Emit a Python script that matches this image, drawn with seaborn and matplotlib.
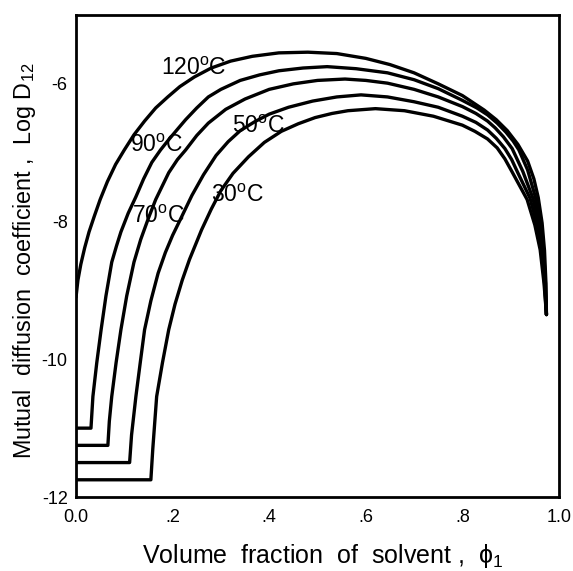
import matplotlib
matplotlib.use("Agg")
import matplotlib.pyplot as plt
import numpy as np
import pandas as pd
import seaborn as sns

# ---- data ----
temperatures = ["120", "90", "70", "50", "30"]

phi_120 = [0.000, 0.004, 0.010, 0.018, 0.027, 0.038, 0.050, 0.065, 0.082, 0.100, 0.120, 0.142,
           0.165, 0.190, 0.215, 0.245, 0.280, 0.320, 0.365, 0.420, 0.480, 0.540, 0.600, 0.650,
           0.700, 0.750, 0.800, 0.845, 0.870, 0.893, 0.915, 0.935, 0.948, 0.957, 0.965, 0.970,
           0.973, 0.974]
logd_120 = [-9.10, -8.85, -8.62, -8.38, -8.15, -7.92, -7.68, -7.42, -7.17, -6.96, -6.74, -6.54,
            -6.35, -6.19, -6.04, -5.90, -5.77, -5.67, -5.60, -5.55, -5.54, -5.56, -5.63, -5.72,
            -5.84, -6.00, -6.17, -6.38, -6.52, -6.68, -6.88, -7.12, -7.38, -7.65, -8.02, -8.42,
            -8.90, -9.35]

phi_90 = [0.000, 0.031, 0.035, 0.043, 0.052, 0.062, 0.074, 0.084, 0.093, 0.108, 0.124, 0.140,
          0.157, 0.175, 0.192, 0.210, 0.227, 0.250, 0.274, 0.300, 0.340, 0.380, 0.420, 0.470,
          0.520, 0.580, 0.645, 0.700, 0.750, 0.800, 0.830, 0.852, 0.872, 0.890, 0.905, 0.917,
          0.935, 0.951, 0.962, 0.968, 0.972, 0.974]
logd_90 = [-11.00, -11.00, -10.54, -10.05, -9.57, -9.08, -8.59, -8.35, -8.15, -7.88, -7.64, -7.38,
           -7.14, -6.96, -6.81, -6.66, -6.52, -6.35, -6.19, -6.08, -5.95, -5.87, -5.81, -5.77,
           -5.75, -5.78, -5.84, -5.94, -6.07, -6.24, -6.35, -6.45, -6.57, -6.70, -6.83, -6.96,
           -7.25, -7.64, -8.03, -8.41, -8.90, -9.35]

phi_70 = [0.000, 0.066, 0.069, 0.074, 0.083, 0.093, 0.105, 0.120, 0.134, 0.150, 0.165, 0.192,
          0.210, 0.227, 0.250, 0.274, 0.310, 0.350, 0.400, 0.450, 0.500, 0.557, 0.600, 0.645,
          0.700, 0.750, 0.800, 0.828, 0.852, 0.868, 0.885, 0.903, 0.925, 0.946, 0.958, 0.966,
          0.971, 0.974]
logd_70 = [-11.25, -11.25, -10.90, -10.54, -10.05, -9.57, -9.08, -8.59, -8.26, -7.95, -7.68, -7.29,
           -7.10, -6.96, -6.75, -6.57, -6.37, -6.22, -6.08, -6.00, -5.95, -5.93, -5.95, -5.99,
           -6.08, -6.19, -6.33, -6.43, -6.54, -6.64, -6.77, -6.94, -7.27, -7.66, -8.03, -8.41,
           -8.90, -9.35]

phi_50 = [0.000, 0.111, 0.115, 0.124, 0.133, 0.142, 0.155, 0.170, 0.185, 0.200, 0.216, 0.240,
          0.264, 0.290, 0.315, 0.340, 0.370, 0.400, 0.440, 0.490, 0.540, 0.590, 0.645, 0.700,
          0.750, 0.800, 0.828, 0.852, 0.870, 0.888, 0.902, 0.914, 0.940, 0.954, 0.964, 0.970,
          0.974]
logd_50 = [-11.50, -11.50, -11.10, -10.54, -10.05, -9.57, -9.15, -8.75, -8.45, -8.20, -7.97, -7.62,
           -7.32, -7.04, -6.84, -6.68, -6.55, -6.44, -6.34, -6.25, -6.19, -6.16, -6.19, -6.26,
           -6.34, -6.47, -6.56, -6.67, -6.79, -6.94, -7.10, -7.28, -7.66, -8.03, -8.41, -8.90,
           -9.35]

phi_30 = [0.000, 0.155, 0.159, 0.167, 0.179, 0.192, 0.205, 0.220, 0.235, 0.260, 0.280, 0.300,
          0.325, 0.357, 0.390, 0.425, 0.460, 0.495, 0.530, 0.563, 0.620, 0.680, 0.740, 0.800,
          0.826, 0.852, 0.872, 0.888, 0.903, 0.934, 0.950, 0.961, 0.969, 0.974]
logd_30 = [-11.75, -11.75, -11.30, -10.54, -10.05, -9.57, -9.20, -8.85, -8.55, -8.12, -7.82, -7.55,
           -7.30, -7.06, -6.85, -6.69, -6.58, -6.49, -6.43, -6.39, -6.36, -6.39, -6.47, -6.60,
           -6.69, -6.80, -6.93, -7.09, -7.28, -7.68, -8.05, -8.41, -8.90, -9.35]

label_x = [0.243, 0.167, 0.171, 0.377, 0.334]
label_y = [-5.78, -6.90, -7.93, -6.62, -7.62]

x_ticks = [0.0, 0.2, 0.4, 0.6, 0.8, 1.0]
x_tick_labels = ["0.0", ".2", ".4", ".6", ".8", "1.0"]
y_ticks = [-12, -10, -8, -6]
y_tick_labels = ["-12", "-10", "-8", "-6"]

# ---- build long table ----
series = {"120": (phi_120, logd_120), "90": (phi_90, logd_90), "70": (phi_70, logd_70),
          "50": (phi_50, logd_50), "30": (phi_30, logd_30)}
frames = []
for t in temperatures:
    xs, ys = series[t]
    frames.append(pd.DataFrame({"phi": xs, "logd": ys, "T": t}))
df = pd.concat(frames, ignore_index=True)

sns.set_theme(style="white")
plt.rcParams["font.family"] = ["Liberation Sans", "DejaVu Sans"]
plt.rcParams["mathtext.fontset"] = "custom"
plt.rcParams["mathtext.rm"] = "Liberation Sans"
plt.rcParams["mathtext.it"] = "Liberation Sans:italic"
plt.rcParams["mathtext.default"] = "regular"
plt.rcParams["text.color"] = "black"
plt.rcParams["axes.labelcolor"] = "black"

fig = plt.figure(figsize=(5.73, 5.71), dpi=100)
ax = fig.add_axes([76 / 573, 1 - 497 / 571, (559 - 76) / 573, (497 - 15) / 571])

sns.lineplot(data=df, x="phi", y="logd", hue="T", units="T", estimator=None, sort=False,
             palette=["black"] * len(temperatures), legend=False, linewidth=2.4, ax=ax)
for ln in ax.lines:
    ln.set_solid_joinstyle("round")

for t, lx, ly in zip(temperatures, label_x, label_y):
    ax.text(lx, ly, t + r"$^{\mathrm{o}}$C", ha="center", va="center", fontsize=16.5,
            color="black")

ax.set_xlim(0, 1)
ax.set_ylim(-12, -5)
ax.set_xticks(x_ticks)
ax.set_xticklabels(x_tick_labels)
ax.set_yticks(y_ticks)
ax.set_yticklabels(y_tick_labels)
ax.tick_params(axis="x", direction="in", length=4, width=1.2, labelsize=13, pad=9, colors="black")
ax.tick_params(axis="y", direction="in", length=8, width=1.2, labelsize=13, pad=6, colors="black")
for s in ax.spines.values():
    s.set_linewidth(2.0)
    s.set_color("black")

ax.set_xlabel(r"Volume  fraction  of  solvent ,  ϕ$_1$", fontsize=18, color="black")
ax.set_ylabel(r"Mutual  diffusion  coefficient ,  Log D$_{12}$", fontsize=16.8, color="black")
ax.xaxis.set_label_coords(0.51, -0.093)
ax.yaxis.set_label_coords(-0.078, 0.49)

fig.savefig("out.png", dpi=100)
